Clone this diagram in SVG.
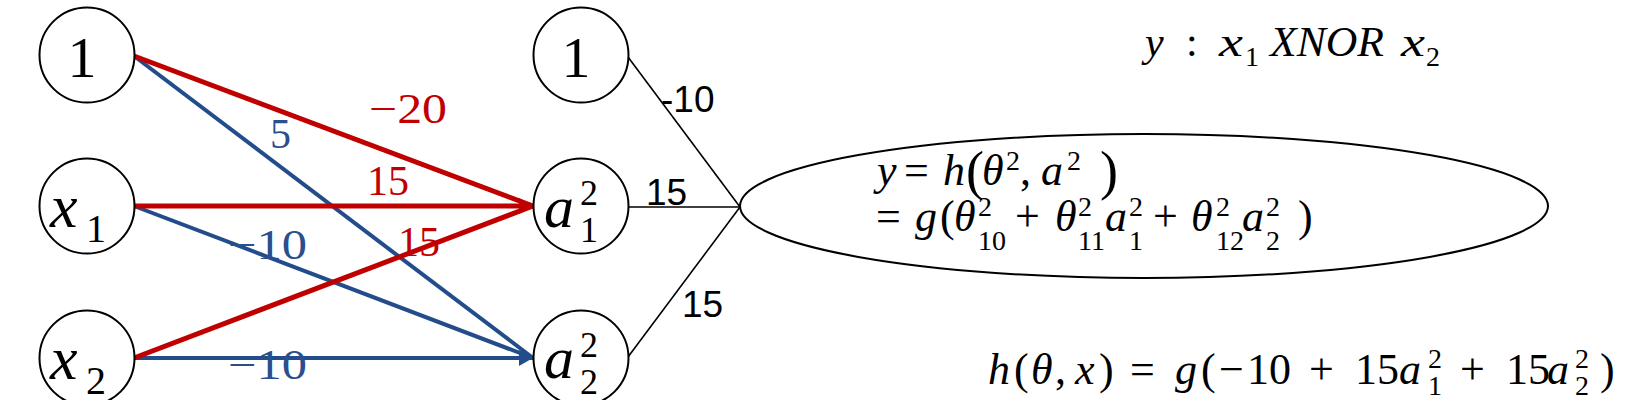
<svg xmlns="http://www.w3.org/2000/svg" width="1632" height="400" viewBox="0 0 1632 400">
<defs>
<marker id="arR" viewBox="0 0 14 16" refX="14" refY="8" markerWidth="14" markerHeight="16" markerUnits="userSpaceOnUse" orient="auto"><path d="M0,0 L14,8 L0,16 Z" fill="#C00000"/></marker>
<marker id="arB" viewBox="0 0 14 16" refX="14" refY="8" markerWidth="14" markerHeight="16" markerUnits="userSpaceOnUse" orient="auto"><path d="M0,0 L14,8 L0,16 Z" fill="#234C8A"/></marker>
</defs>
<style>
.node{fill:#fff;stroke:#000;stroke-width:2}
.red{stroke:#C00000;stroke-width:5;fill:none}
.blue{stroke:#234C8A;stroke-width:4;fill:none}
.blk{stroke:#000;stroke-width:1.6;fill:none}
.m{font-family:"Liberation Serif","Times New Roman",serif;fill:#000}
.i{font-style:italic}
.wr{font-family:"Liberation Serif",serif;font-size:42px;fill:#C00000}
.wb{font-family:"Liberation Serif",serif;font-size:42px;fill:#2A4F8E}
.wk{font-family:"Liberation Sans",Arial,sans-serif;font-size:37px;fill:#000}
</style>
<rect width="1632" height="400" fill="#fff"/>
<g id="connectors">
<line class="blue" x1="134" y1="56" x2="533" y2="358"/>
<line class="blue" x1="134" y1="206" x2="533" y2="358"/>
<line class="blue" x1="134" y1="358" x2="533" y2="358" marker-end="url(#arB)"/>
<line class="red" x1="134" y1="56" x2="533" y2="206"/>
<line class="red" x1="134" y1="206" x2="533" y2="206" marker-end="url(#arR)"/>
<line class="red" x1="134" y1="358" x2="533" y2="206"/>
<line class="blk" x1="628" y1="57" x2="740" y2="207"/>
<line class="blk" x1="628" y1="207" x2="740" y2="207"/>
<line class="blk" x1="628" y1="357" x2="740" y2="207"/>
<text class="wr" x="369" y="123" textLength="78" lengthAdjust="spacingAndGlyphs">−20</text>
<text class="wb" x="270" y="148">5</text>
<text class="wr" x="367" y="195">15</text>
<text class="wr" x="398" y="256">15</text>
<text class="wb" x="228" y="259" textLength="79" lengthAdjust="spacingAndGlyphs">−10</text>
<text class="wb" x="228" y="379" textLength="79" lengthAdjust="spacingAndGlyphs">−10</text>
<text class="wk" x="661" y="112">-10</text>
<text class="wk" x="646" y="205">15</text>
<text class="wk" x="682" y="317">15</text>
</g>
<g id="n_bias1">
<circle class="node" cx="87" cy="55" r="47.5"/>
<text class="m" x="82" y="77" font-size="58" text-anchor="middle">1</text>
</g>
<g id="n_x1">
<circle class="node" cx="87" cy="206" r="47.5"/>
<text class="m" y="227" font-size="62"><tspan class="i" x="50">x</tspan><tspan x="86" y="242" font-size="40">1</tspan></text>
</g>
<g id="n_x2">
<circle class="node" cx="87" cy="358" r="47.5"/>
<text class="m" y="379" font-size="62"><tspan class="i" x="50">x</tspan><tspan x="86" y="394" font-size="40">2</tspan></text>
</g>
<g id="n_bias2">
<circle class="node" cx="581" cy="55" r="47.5"/>
<text class="m" x="576" y="77" font-size="58" text-anchor="middle">1</text>
</g>
<g id="n_a1">
<circle class="node" cx="581" cy="206" r="47.5"/>
<text class="m" y="227" font-size="60"><tspan class="i" x="544">a</tspan><tspan x="580" y="205" font-size="36">2</tspan><tspan x="580" y="242" font-size="36">1</tspan></text>
</g>
<g id="n_a2">
<circle class="node" cx="581" cy="358" r="47.5"/>
<text class="m" y="378" font-size="60"><tspan class="i" x="544">a</tspan><tspan x="580" y="357" font-size="36">2</tspan><tspan x="580" y="394" font-size="36">2</tspan></text>
</g>
<g id="n_output">
<ellipse class="node" cx="1144" cy="206" rx="404" ry="72"/>
<text class="m" y="185" font-size="44"><tspan class="i" x="877">y</tspan><tspan x="904">=</tspan><tspan class="i" x="943">h</tspan><tspan x="966" font-size="54" y="189">(</tspan><tspan class="i" x="982" y="185">θ</tspan><tspan x="1006" y="170" font-size="28">2</tspan><tspan x="1020" y="185">,</tspan><tspan class="i" x="1041">a</tspan><tspan x="1067" y="170" font-size="28">2</tspan><tspan x="1100" y="189" font-size="54">)</tspan></text>
<text class="m" y="231" font-size="44"><tspan x="876">=</tspan><tspan class="i" x="915">g</tspan><tspan x="940">(</tspan><tspan class="i" x="954">θ</tspan><tspan x="978" y="216" font-size="28">2</tspan><tspan x="978" y="250" font-size="28">10</tspan><tspan x="1015" y="231">+</tspan><tspan class="i" x="1055">θ</tspan><tspan x="1078" y="216" font-size="28">2</tspan><tspan x="1078" y="250" font-size="28">11</tspan><tspan class="i" x="1105" y="231">a</tspan><tspan x="1129" y="216" font-size="28">2</tspan><tspan x="1129" y="250" font-size="28">1</tspan><tspan x="1153" y="231">+</tspan><tspan class="i" x="1191">θ</tspan><tspan x="1216" y="216" font-size="28">2</tspan><tspan x="1216" y="250" font-size="28">12</tspan><tspan class="i" x="1242" y="231">a</tspan><tspan x="1266" y="216" font-size="28">2</tspan><tspan x="1266" y="250" font-size="28">2</tspan><tspan x="1298" y="231">)</tspan></text>
</g>
<g id="title">
<text class="m" y="56" font-size="42"><tspan class="i" x="1145">y</tspan><tspan x="1186">:</tspan><tspan class="i" x="1219" textLength="24" lengthAdjust="spacingAndGlyphs">x</tspan><tspan x="1245" y="66" font-size="28">1</tspan><tspan class="i" x="1270" y="56" textLength="114" lengthAdjust="spacingAndGlyphs">XNOR</tspan><tspan class="i" x="1401" textLength="24" lengthAdjust="spacingAndGlyphs">x</tspan><tspan x="1426" y="66" font-size="28">2</tspan></text>
</g>
<g id="formula">
<text class="m" y="384" font-size="44"><tspan class="i" x="988">h</tspan><tspan x="1014">(</tspan><tspan class="i" x="1031">θ</tspan><tspan x="1055">,</tspan><tspan class="i" x="1075">x</tspan><tspan x="1099">)</tspan><tspan x="1130">=</tspan><tspan class="i" x="1175">g</tspan><tspan x="1201">(</tspan><tspan x="1219">−</tspan><tspan x="1247">10</tspan><tspan x="1309">+</tspan><tspan x="1355">15</tspan><tspan class="i" x="1399">a</tspan><tspan x="1428" y="368" font-size="28">2</tspan><tspan x="1428" y="395" font-size="28">1</tspan><tspan x="1460" y="384">+</tspan><tspan x="1506">15</tspan><tspan class="i" x="1547">a</tspan><tspan x="1575" y="368" font-size="28">2</tspan><tspan x="1575" y="395" font-size="28">2</tspan><tspan x="1600" y="384">)</tspan></text>
</g>
</svg>
